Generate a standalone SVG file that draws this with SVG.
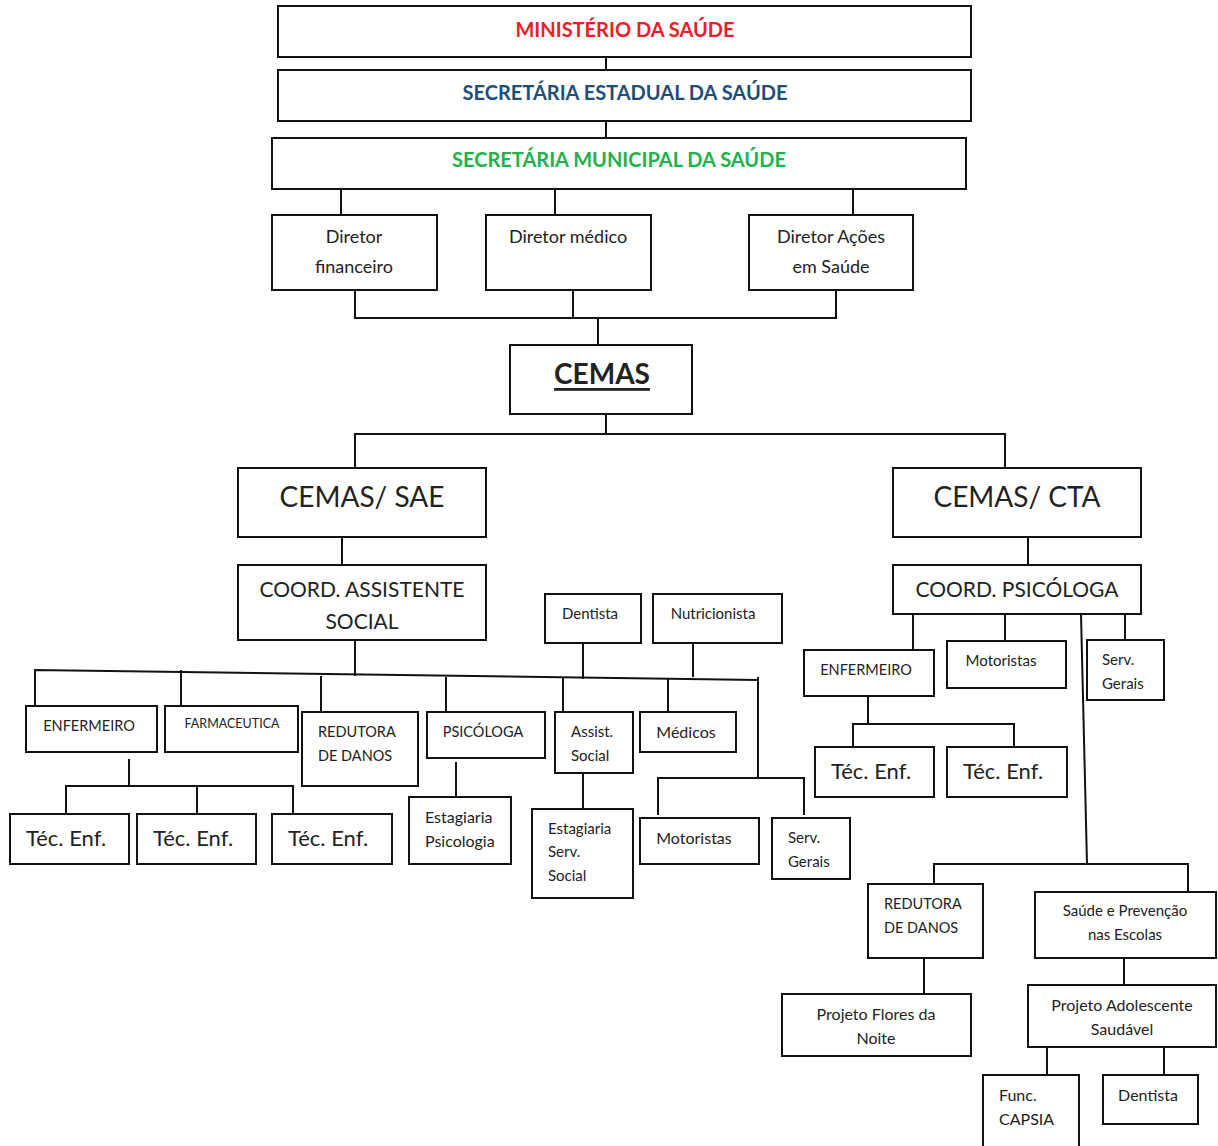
<svg xmlns="http://www.w3.org/2000/svg" width="1218" height="1146" viewBox="0 0 1218 1146">
<style>
rect{fill:#fff;stroke:#111;stroke-width:2}
.c{fill:none;stroke:#111;stroke-width:2}
text{font-family:Lato,"Open Sans",sans-serif;fill:#222;dominant-baseline:central}
.m{text-anchor:middle}
.s14{font-size:15px}
.e{font-size:14.5px}
.s15{font-size:16px}
.s16{font-size:16px}
.s18{font-size:18px}
.s21{font-size:21px}
.s22{font-size:22px}
.s28{font-size:28px}
.top{font-size:20px;font-weight:bold;text-anchor:middle}
</style>
<rect x="0" y="0" width="1218" height="1146" style="fill:#fff;stroke:none"/>
<g id="connectors">
<path class="c" d="M606 57V70M606 121V138"/>
<path class="c" d="M341 189V215M555 189V215M853 189V215"/>
<path class="c" d="M355 290V318H836V290M573 290V318M598 318V345"/>
<path class="c" d="M606 414V434M355 468V434H1005V468"/>
<path class="c" d="M342 537V565M355 640V676"/>
<path class="c" d="M35 706V670L758 680"/>
<path class="c" d="M181 670V706M321 676V712M446 677V712M563 677V712M668 678V712"/>
<path class="c" d="M583 643V679M693 643V677"/>
<path class="c" d="M758 677V778M658 815V778H804V815"/>
<path class="c" d="M456 762V797M583 773V809"/>
<path class="c" d="M129 759V786M66 814V786H293V814M197 786V814"/>
<path class="c" d="M1028 537V565"/>
<path class="c" d="M913 614V650M1005 614V641M1125 614V640M1081 614L1087 864"/>
<path class="c" d="M868 696V724M853 747V724H1014V747"/>
<path class="c" d="M934 884V864H1188V892"/>
<path class="c" d="M924 958V994M1124 958V985M1047 1047V1075M1164 1047V1075"/>
</g>
<g id="ministerio"><rect x="278" y="6" width="693" height="51"/><text class="top" x="625" y="29" style="fill:#e8202a">MINISTÉRIO DA SAÚDE</text></g>
<g id="estadual"><rect x="278" y="70" width="693" height="51"/><text class="top" x="625" y="92" style="fill:#1f4e79">SECRETÁRIA ESTADUAL DA SAÚDE</text></g>
<g id="municipal"><rect x="272" y="138" width="694" height="51"/><text class="top" x="619" y="159" style="fill:#22b14c">SECRETÁRIA MUNICIPAL DA SAÚDE</text></g>
<g id="dir-fin"><rect x="272" y="215" width="165" height="75"/><text class="m s18" x="354" y="236">Diretor</text><text class="m s18" x="354" y="266">financeiro</text></g>
<g id="dir-med"><rect x="486" y="215" width="165" height="75"/><text class="m s18" x="568" y="236">Diretor médico</text></g>
<g id="dir-acoes"><rect x="749" y="215" width="164" height="75"/><text class="m s18" x="831" y="236">Diretor Ações</text><text class="m s18" x="831" y="266">em Saúde</text></g>
<g id="cemas"><rect x="510" y="345" width="182" height="69"/><text class="m s28" x="602" y="373" style="font-weight:bold;text-decoration:underline">CEMAS</text></g>
<g id="sae"><rect x="238" y="468" width="248" height="69"/><text class="m s28" x="362" y="496">CEMAS/ SAE</text></g>
<g id="cta"><rect x="893" y="468" width="248" height="69"/><text class="m s28" x="1017" y="496">CEMAS/ CTA</text></g>
<g id="coord-as"><rect x="238" y="565" width="248" height="75"/><text class="m s21" x="362" y="588">COORD. ASSISTENTE</text><text class="m s21" x="362" y="620">SOCIAL</text></g>
<g id="coord-psi"><rect x="893" y="565" width="248" height="49"/><text class="m s21" x="1017" y="588">COORD. PSICÓLOGA</text></g>
<g id="dentista1"><rect x="545" y="594" width="96" height="49"/><text class="m s14" x="590" y="613">Dentista</text></g>
<g id="nutri"><rect x="653" y="594" width="129" height="49"/><text class="m s14" x="713" y="613">Nutricionista</text></g>
<g id="enf1"><rect x="26" y="706" width="131" height="46"/><text class="m e" x="89" y="725">ENFERMEIRO</text></g>
<g id="farm"><rect x="165" y="706" width="133" height="46"/><text class="m" x="232" y="723" style="font-size:12.5px">FARMACEUTICA</text></g>
<g id="redutora1"><rect x="302" y="712" width="116" height="74"/><text class="e" x="318" y="731">REDUTORA</text><text class="e" x="318" y="755">DE DANOS</text></g>
<g id="psicologa"><rect x="427" y="712" width="118" height="46"/><text class="m e" x="483" y="731">PSICÓLOGA</text></g>
<g id="assist"><rect x="555" y="712" width="78" height="61"/><text class="s14" x="571" y="731">Assist.</text><text class="s14" x="571" y="755">Social</text></g>
<g id="medicos"><rect x="640" y="712" width="96" height="40"/><text class="m s15" x="686" y="731">Médicos</text></g>
<g id="motoristas1"><rect x="640" y="818" width="119" height="46"/><text class="m s15" x="694" y="837">Motoristas</text></g>
<g id="serv1"><rect x="772" y="818" width="78" height="61"/><text class="s14" x="788" y="837">Serv.</text><text class="s14" x="788" y="861">Gerais</text></g>
<g id="est-psi"><rect x="409" y="797" width="102" height="67"/><text class="s15" x="425" y="816">Estagiaria</text><text class="s15" x="425" y="840">Psicologia</text></g>
<g id="est-ss"><rect x="532" y="809" width="101" height="89"/><text class="s14" x="548" y="828">Estagiaria</text><text class="s14" x="548" y="851">Serv.</text><text class="s14" x="548" y="875">Social</text></g>
<g id="tec1"><rect x="10" y="814" width="119" height="50"/><text class="m s22" x="66" y="837">Téc. Enf.</text></g>
<g id="tec2"><rect x="137" y="814" width="119" height="50"/><text class="m s22" x="193" y="837">Téc. Enf.</text></g>
<g id="tec3"><rect x="272" y="814" width="120" height="50"/><text class="m s22" x="328" y="837">Téc. Enf.</text></g>
<g id="enf2"><rect x="804" y="650" width="130" height="46"/><text class="m e" x="866" y="669">ENFERMEIRO</text></g>
<g id="motoristas2"><rect x="947" y="641" width="119" height="47"/><text class="m s14" x="1001" y="660">Motoristas</text></g>
<g id="serv2"><rect x="1087" y="640" width="77" height="60"/><text class="s14" x="1102" y="659">Serv.</text><text class="s14" x="1102" y="683">Gerais</text></g>
<g id="tec4"><rect x="815" y="747" width="119" height="50"/><text class="m s22" x="871" y="770">Téc. Enf.</text></g>
<g id="tec5"><rect x="947" y="747" width="120" height="50"/><text class="m s22" x="1003" y="770">Téc. Enf.</text></g>
<g id="redutora2"><rect x="868" y="884" width="115" height="74"/><text class="e" x="884" y="903">REDUTORA</text><text class="e" x="884" y="927">DE DANOS</text></g>
<g id="spe"><rect x="1035" y="892" width="181" height="66"/><text class="m s14" x="1125" y="910">Saúde e Prevenção</text><text class="m s14" x="1125" y="934">nas Escolas</text></g>
<g id="flores"><rect x="782" y="994" width="189" height="62"/><text class="m s15" x="876" y="1013">Projeto Flores da</text><text class="m s15" x="876" y="1037">Noite</text></g>
<g id="adolescente"><rect x="1028" y="985" width="188" height="62"/><text class="m s15" x="1122" y="1004">Projeto Adolescente</text><text class="m s15" x="1122" y="1028">Saudável</text></g>
<g id="capsia"><rect x="983" y="1075" width="96" height="80"/><text class="s15" x="999" y="1094">Func.</text><text class="s15" x="999" y="1118">CAPSIA</text></g>
<g id="dentista2"><rect x="1103" y="1075" width="95" height="49"/><text class="m s15" x="1148" y="1094">Dentista</text></g>
</svg>
